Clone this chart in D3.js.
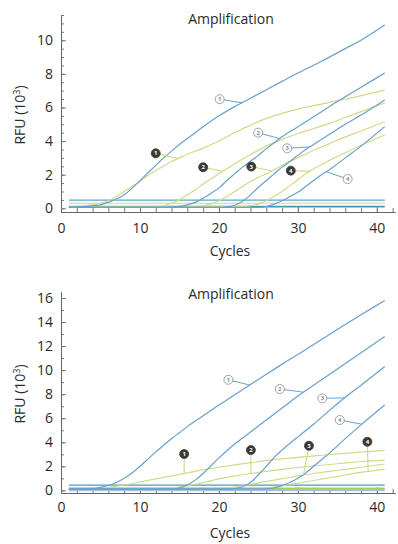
<!DOCTYPE html>
<html>
<head>
<meta charset="utf-8">
<script src="https://cdn.jsdelivr.net/npm/d3@7"></script>
<style>
  body { margin: 0; background: #fff; }
  text { font-family: "Open Sans", sans-serif; fill: #2b2b2b; }
</style>
</head>
<body>
<svg id="chart"></svg>
<script>
const width = 398;
const height = 544;

// x axis (cycles)
const xMajorTicks = [0, 10, 20, 30, 40];

// top panel
const topYTicks = [0, 2, 4, 6, 8, 10];
const topBlue1 = [[1,0.05],[3,0.1],[5,0.2],[6,0.35],[7,0.55],[8,0.8],[9,1.2],[10,1.65],[11,2.1],[12,2.55],[13,3.0],[14,3.4],[15,3.8],[16,4.15],[17,4.5],[18,4.85],[20,5.5],[22,6.05],[24,6.55],[26,7.05],[28,7.55],[30,8.05],[33,8.75],[36,9.5],[38,10.0],[41,10.9]];
const topBlue2 = [[1,0.05],[13,0.05],[14,0.08],[15,0.12],[16,0.2],[17,0.35],[18,0.6],[19,0.9],[20,1.2],[21,1.65],[22,2.05],[23,2.45],[24,2.8],[25,3.15],[26,3.55],[27,3.9],[28,4.25],[30,4.85],[32,5.45],[35,6.35],[38,7.2],[41,8.05]];
const topBlue3 = [[1,0.05],[20,0.05],[21,0.08],[22,0.18],[23,0.42],[24,0.8],[25,1.25],[26,1.65],[27,2.05],[28,2.45],[29,2.8],[30,3.15],[31,3.5],[32,3.8],[34,4.4],[36,5.0],[38,5.55],[41,6.45]];
const topBlue4 = [[1,0.05],[25,0.05],[26,0.1],[27,0.25],[28,0.45],[29,0.7],[30,0.95],[31,1.3],[32,1.65],[33,2.0],[34,2.3],[36,3.0],[38,3.7],[41,4.86]];
const topYellow1 = [[1,0.1],[3,0.15],[4,0.2],[5,0.3],[6,0.45],[7,0.7],[8,1.0],[9,1.3],[10,1.6],[11,1.95],[12,2.25],[13,2.52],[14,2.78],[15,3.0],[16,3.22],[18,3.58],[20,4.0],[22,4.5],[24,4.95],[26,5.35],[28,5.65],[30,5.9],[34,6.3],[38,6.7],[41,7.05]];
const topYellow2 = [[1,0.1],[12,0.1],[13,0.15],[14,0.3],[15,0.5],[16,0.8],[17,1.1],[18,1.45],[19,1.75],[20,2.05],[21,2.35],[22,2.65],[24,3.2],[26,3.7],[28,4.1],[30,4.45],[32,4.75],[34,5.05],[36,5.4],[38,5.75],[41,6.27]];
const topYellow3 = [[1,0.1],[17,0.1],[18,0.15],[19,0.25],[20,0.45],[21,0.7],[22,1.0],[23,1.3],[24,1.6],[25,1.85],[26,2.05],[27,2.3],[28,2.55],[30,3.0],[32,3.45],[34,3.85],[36,4.25],[38,4.6],[41,5.15]];
const topYellow4 = [[1,0.1],[23,0.1],[24,0.15],[25,0.25],[26,0.45],[27,0.7],[28,1.0],[29,1.35],[30,1.7],[31,2.05],[32,2.35],[34,2.85],[36,3.3],[38,3.75],[41,4.36]];
const topThresholds = [0.49, 0.3, 0.1];
// label: [text, filled?, label cycle, label value, target cycle, series index]
const topLabels = [
  ["1", false, 20.1, 6.49, 22.9, 0], ["2", false, 24.97, 4.5, 27.7, 1],
  ["3", false, 28.65, 3.57, 31.5, 2], ["4", false, 36.3, 1.74, 33.6, 3],
  ["1", true, 12.0, 3.27, 14.85, 4], ["2", true, 18.0, 2.44, 20.5, 5],
  ["3", true, 24.1, 2.48, 26.7, 6], ["4", true, 29.1, 2.24, 31.5, 7]
];

// bottom panel
const bottomYTicks = [0, 2, 4, 6, 8, 10, 12, 14, 16];
const botBlue1 = [[1,0.1],[4,0.15],[5,0.25],[6,0.4],[7,0.65],[8,1.0],[9,1.45],[10,2.0],[11,2.6],[12,3.2],[13,3.75],[14,4.3],[15,4.8],[16,5.3],[18,6.2],[20,7.1],[22,7.95],[24,8.8],[26,9.65],[28,10.5],[30,11.3],[33,12.55],[36,13.8],[38,14.6],[41,15.8]];
const botBlue2 = [[1,0.1],[14,0.1],[15,0.2],[16,0.45],[17,0.85],[18,1.4],[19,2.05],[20,2.7],[21,3.3],[22,3.85],[23,4.35],[24,4.85],[26,5.85],[28,6.85],[30,7.85],[32,8.75],[35,10.1],[38,11.45],[41,12.8]];
const botBlue3 = [[1,0.1],[21,0.1],[22,0.15],[23,0.3],[24,0.65],[25,1.3],[26,2.0],[27,2.75],[28,3.35],[30,4.45],[32,5.5],[34,6.65],[36,7.75],[38,8.75],[41,10.3]];
const botBlue4 = [[1,0.1],[26,0.12],[27,0.2],[28,0.4],[29,0.65],[30,1.0],[31,1.45],[32,2.0],[33,2.55],[34,3.1],[36,4.3],[38,5.45],[41,7.1]];
const botYellow1 = [[1,0.2],[5,0.2],[6,0.25],[7,0.35],[8,0.45],[10,0.7],[12,0.95],[14,1.2],[16,1.45],[18,1.7],[20,1.92],[22,2.12],[24,2.3],[26,2.48],[28,2.62],[30,2.75],[33,2.92],[36,3.08],[38,3.18],[41,3.32]];
const botYellow2 = [[1,0.2],[13,0.2],[14,0.22],[15,0.28],[16,0.38],[18,0.65],[20,0.95],[22,1.2],[24,1.4],[26,1.58],[28,1.75],[30,1.9],[32,2.03],[34,2.15],[36,2.28],[38,2.4],[41,2.52]];
const botYellow3 = [[1,0.2],[20,0.2],[21,0.22],[22,0.28],[24,0.5],[26,0.75],[28,0.97],[30,1.2],[32,1.4],[34,1.58],[36,1.75],[38,1.92],[41,2.19]];
const botYellow4 = [[1,0.2],[25,0.2],[26,0.22],[27,0.28],[28,0.38],[30,0.6],[32,0.82],[34,1.05],[36,1.28],[38,1.5],[41,1.75]];
const bottomThresholds = [0.43, 0.13, -0.03];
const bottomLabels = [
  ["1", false, 21.2, 9.2, 23.9, 0], ["2", false, 27.7, 8.43, 30.7, 1],
  ["3", false, 33.1, 7.65, 35.9, 2], ["4", false, 35.3, 5.85, 38.1, 3],
  ["1", true, 15.6, 3.02, 15.6, 4], ["2", true, 24.05, 3.35, 24.05, 5],
  ["3", true, 31.4, 3.71, 30.7, 6], ["4", true, 38.8, 4.04, 38.9, 7]
];

const blue = "#6a9fcf";
const yellow = "#cbdd88";

const svg = d3.select("#chart").attr("width", width).attr("height", height);

// value of a series at cycle c, used to end the leader lines on the curve
function valueAt(series, c) {
  for (let i = 1; i < series.length; i++) {
    const [c0, v0] = series[i - 1], [c1, v1] = series[i];
    if (c <= c1) return v0 + (v1 - v0) * (c - c0) / (c1 - c0);
  }
  return series[series.length - 1][1];
}

function drawPanel(p) {
  const g = svg.append("g");
  const x = d3.scaleLinear().domain([0, 42.3]).range([61, 395]);
  const y = d3.scaleLinear().domain(p.yDomain).range(p.yRange);

  // axes, ticks point inward
  const xMinor = d3.axisBottom(x).tickValues(d3.range(0, 43, 2)).tickSizeInner(-4).tickSizeOuter(0).tickFormat("");
  const xMajor = d3.axisBottom(x).tickValues(xMajorTicks).tickSizeInner(-6).tickSizeOuter(0).tickPadding(p.xPad);
  const yMinor = d3.axisLeft(y).tickValues(p.yMinor).tickSizeInner(-3).tickSizeOuter(0).tickFormat("");
  const yMajor = d3.axisLeft(y).tickValues(p.yTicks).tickSizeInner(-5).tickSizeOuter(0).tickPadding(8);

  [xMinor, xMajor].forEach(a => {
    g.append("g").attr("transform", `translate(0,${p.yRange[0]})`).call(a);
  });
  [yMinor, yMajor].forEach(a => {
    g.append("g").attr("transform", "translate(61,0)").call(a);
  });
  g.selectAll(".domain").attr("stroke", "#666");
  g.selectAll(".tick line").attr("stroke", "#777");
  g.selectAll(".tick text").style("font-size", "14px").attr("fill", "#2b2b2b");

  // threshold lines
  g.selectAll(".thr")
    .data(p.thresholds)
    .enter().append("line")
    .attr("x1", x(1)).attr("x2", x(41))
    .attr("y1", d => y(d)).attr("y2", d => y(d))
    .attr("stroke", (d, i) => p.thrColors[i])
    .attr("stroke-width", (d, i) => p.thrWidths[i]);

  const line = d3.line()
    .x(d => x(d[0]))
    .y(d => y(d[1]))
    .curve(d3.curveMonotoneX);

  const series = p.blues.concat(p.yellows);
  g.selectAll(".yellow")
    .data(p.yellows)
    .enter().append("path")
    .attr("d", line)
    .attr("fill", "none")
    .attr("stroke", yellow)
    .attr("stroke-width", 1.2);
  g.selectAll(".blue")
    .data(p.blues)
    .enter().append("path")
    .attr("d", line)
    .attr("fill", "none")
    .attr("stroke", blue)
    .attr("stroke-width", 1.2);

  // numbered markers with leader lines
  const lab = g.selectAll(".lab")
    .data(p.labels)
    .enter().append("g");
  lab.append("line")
    .attr("x1", d => x(d[2])).attr("y1", d => y(d[3]))
    .attr("x2", d => x(d[4])).attr("y2", d => y(valueAt(series[d[5]], d[4])))
    .attr("stroke", d => d[1] ? "#c4d97a" : blue)
    .attr("stroke-width", 1);
  lab.append("circle")
    .attr("cx", d => x(d[2])).attr("cy", d => y(d[3]))
    .attr("r", 4.5)
    .attr("fill", d => d[1] ? "#3a3a3a" : "#fff")
    .attr("stroke", d => d[1] ? "#3a3a3a" : "#8a8a8a")
    .attr("stroke-width", 0.8);
  lab.append("text")
    .attr("x", d => x(d[2])).attr("y", d => y(d[3]))
    .attr("dy", "0.35em")
    .attr("text-anchor", "middle")
    .style("font-size", "6px")
    .style("font-weight", "bold")
    .style("fill", d => d[1] ? "#fff" : "#8a8a8a")
    .text(d => d[0]);

  // titles
  g.append("text")
    .attr("x", 231).attr("y", p.titleY)
    .attr("text-anchor", "middle")
    .style("font-size", "14px")
    .text("Amplification");
  g.append("text")
    .attr("x", 230).attr("y", p.cyclesY)
    .attr("text-anchor", "middle")
    .style("font-size", "14px")
    .text("Cycles");
  const yl = g.append("text")
    .attr("transform", `translate(25,${p.yLabelY}) rotate(-90)`)
    .attr("text-anchor", "middle")
    .style("font-size", "14px");
  yl.append("tspan").text("RFU (10");
  yl.append("tspan").attr("dy", -5).style("font-size", "9px").text("3");
  yl.append("tspan").attr("dy", 5).text(")");
}

drawPanel({
  yDomain: [-0.22, 11.5], yRange: [212, 15],
  yTicks: topYTicks, yMinor: d3.range(0, 11.6, 0.5),
  thresholds: topThresholds, thrColors: ["#5aa7c6", "#c9dc84", "#3f9aac"], thrWidths: [1.2, 1.2, 1.6],
  blues: [topBlue1, topBlue2, topBlue3, topBlue4],
  yellows: [topYellow1, topYellow2, topYellow3, topYellow4],
  labels: topLabels,
  xPad: 11, titleY: 24, cyclesY: 256, yLabelY: 115
});

drawPanel({
  yDomain: [-0.22, 16.5], yRange: [493, 292],
  yTicks: bottomYTicks, yMinor: d3.range(0, 16.6, 1),
  thresholds: bottomThresholds, thrColors: ["#4f97c4", "#a3d35c", "#9cc8e2"], thrWidths: [1.2, 2.6, 1.2],
  blues: [botBlue1, botBlue2, botBlue3, botBlue4],
  yellows: [botYellow1, botYellow2, botYellow3, botYellow4],
  labels: bottomLabels,
  xPad: 9, titleY: 299, cyclesY: 538, yLabelY: 394
});
</script>
</body>
</html>
